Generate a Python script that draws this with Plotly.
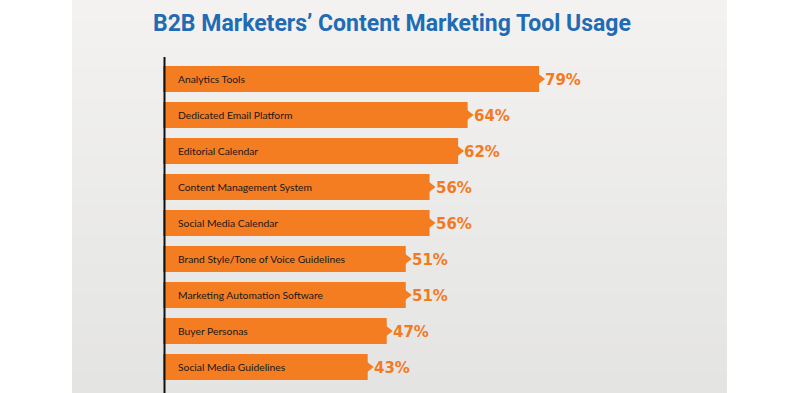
import plotly.graph_objects as go

categories = [
    "Analytics Tools",
    "Dedicated Email Platform",
    "Editorial Calendar",
    "Content Management System",
    "Social Media Calendar",
    "Brand Style/Tone of Voice Guidelines",
    "Marketing Automation Software",
    "Buyer Personas",
    "Social Media Guidelines",
]
values = [79, 64, 62, 56, 56, 51, 51, 47, 43]
value_labels = [f"{v}%" for v in values]
title_text = "B2B Marketers’ Content Marketing Tool Usage"

W, H = 800, 393
ORANGE = "#f47d22"

fig = go.Figure()
fig.add_trace(go.Bar(
    x=values, y=categories, orientation="h",
    marker=dict(color=ORANGE, line=dict(width=0)),
    width=0.72, hoverinfo="skip", showlegend=False,
))
fig.add_trace(go.Scatter(
    x=values, y=categories, mode="markers",
    marker=dict(symbol="triangle-right", size=12, color=ORANGE, line=dict(width=0)),
    hoverinfo="skip", showlegend=False,
))

annotations = []
for c, v, lab in zip(categories, values, value_labels):
    annotations.append(dict(
        x=0, y=c, xref="x", yref="y", text=c, showarrow=False,
        xanchor="left", yanchor="middle", xshift=13,
        font=dict(family="Lato", size=10.3, color="#1a1718"),
    ))
    annotations.append(dict(
        x=v, y=c, xref="x", yref="y", text=lab, showarrow=False,
        xanchor="left", yanchor="middle", xshift=4, yshift=-1,
        font=dict(family="DejaVu Sans", size=15, color="#f37a1f", weight="bold"),
    ))
annotations.append(dict(
    x=392 / W, y=1 - 24 / H, xref="paper", yref="paper", text=f"<b>{title_text}</b>",
    showarrow=False, xanchor="center", yanchor="middle",
    font=dict(family="Roboto", size=23, color="#1f6cb4"),
))

# background gradient panel
shapes = []
n = 40
top = (243, 242, 241)
bot = (228, 228, 227)
for i in range(n):
    t = i / (n - 1)
    col = tuple(round(top[k] + (bot[k] - top[k]) * t) for k in range(3))
    y0 = 1 - i / n
    y1 = 1 - (i + 1) / n
    shapes.append(dict(
        type="rect", xref="paper", yref="paper", x0=72 / W, x1=727 / W,
        y0=y1, y1=y0 + 0.002, fillcolor=f"rgb{col}", line=dict(width=0), layer="below",
    ))
# vertical axis line
shapes.append(dict(
    type="line", xref="paper", yref="paper", x0=164.5 / W, x1=164.5 / W,
    y0=0, y1=1 - 57 / H, line=dict(color="#111111", width=2), layer="above",
))

fig.update_layout(
    width=W, height=H,
    margin=dict(l=0, r=0, t=0, b=0),
    paper_bgcolor="white", plot_bgcolor="rgba(0,0,0,0)",
    xaxis=dict(domain=[163 / W, 639 / W], range=[0, 100], visible=False, fixedrange=True),
    yaxis=dict(domain=[1 - 385 / H, 1 - 61 / H], range=[8.5, -0.5], visible=False,
               categoryorder="array", categoryarray=categories, fixedrange=True),
    annotations=annotations, shapes=shapes, bargap=0.28,
)

fig.write_html(
    "out.html",
    config={"displayModeBar": False},
    post_script="document.body.style.margin='0';document.body.style.overflow='hidden';",
)
